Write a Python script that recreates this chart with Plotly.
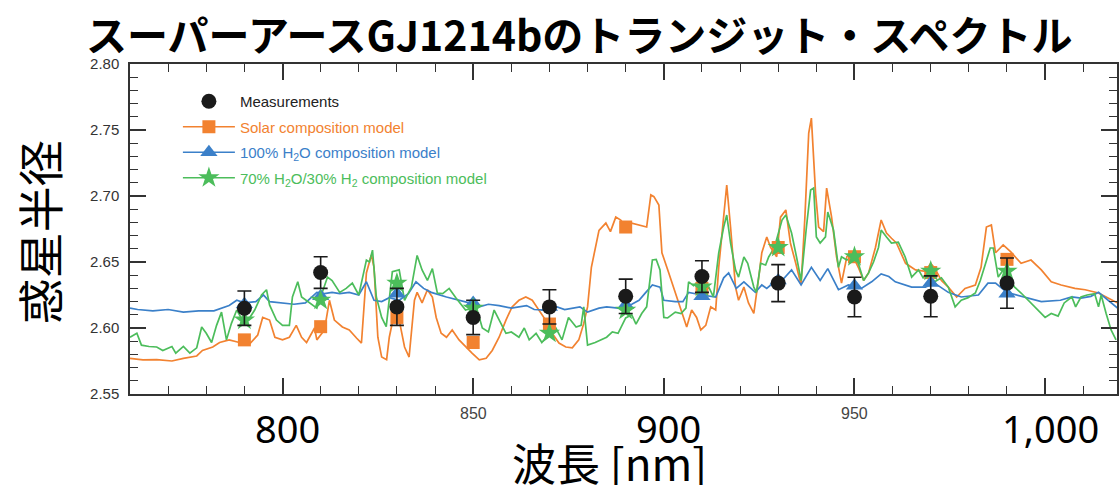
import plotly.graph_objects as go

# ---------------- data ----------------
# binned wavelengths (nm) of the measurements and model points
bin_wl = [790, 810, 830, 850, 870, 890, 910, 930, 950, 970, 990]
meas_r = [2.615, 2.642, 2.616, 2.608, 2.616, 2.624, 2.639, 2.634, 2.6235, 2.624, 2.634]
meas_err = [0.013, 0.012, 0.014, 0.013, 0.013, 0.013, 0.012, 0.014, 0.015, 0.0155, 0.019]
solar_pts = [2.591, 2.601, 2.608, 2.589, 2.603, 2.6765, 2.630, 2.661, 2.654, 2.642, 2.652]
water_pts = [2.618, 2.624, 2.626, 2.619, 2.616, 2.6175, 2.624, 2.636, 2.632, 2.634, 2.626]
mix_pts = [2.606, 2.621, 2.634, 2.615, 2.596, 2.6135, 2.631, 2.661, 2.654, 2.643, 2.643]

# high-resolution model spectra
solar_wl = [760, 763.4, 767, 771, 774, 777.5, 779, 781.7, 783.5, 786, 788.7, 791.4, 793.5, 794.8,
            796.6, 798, 800, 801.8, 803.6, 805, 806.3, 808.4, 809, 811, 812.3, 813.6, 815.7, 817.5,
            819.4, 820.7, 822, 823.3, 824, 825, 826, 827.3, 828, 829.3, 830.6, 832, 833.2, 834.6,
            835.3, 836.6, 838, 839.3, 840.3, 841.6, 843, 844.5, 846.3, 848, 849.7, 851.6, 853.4,
            855, 856.8, 858.6, 860.2, 862, 863.8, 865.5, 867.3, 869, 870.7, 872.5, 874.3, 876,
            877.7, 879, 880, 881, 883, 884.8, 886, 887.4, 888.7, 890, 891.6, 893.5, 895.5, 896.6,
            897.4, 898.7, 899.5, 901.3, 903, 904.7, 906, 907.3, 908.6, 909.7, 911, 912.3, 913.6,
            914.4, 915.7, 916.5, 917.5, 918.8, 919.6, 921, 922.2, 923.6, 924.9, 925.7, 927, 928,
            929.6, 930.6, 932, 933.2, 934.6, 936, 937, 938, 938.7, 939.8, 940.6, 941.9, 942.7,
            944, 945.3, 946.6, 948, 949.2, 951, 952.4, 953.7, 955.5, 957, 958.4, 959.7, 961,
            963.4, 966, 968.6, 970, 971, 972.8, 974.6, 976.8, 979, 981.7, 983.2, 984.6, 985.9,
            987, 989, 991, 993.7, 996.3, 999, 1001.6, 1004.2, 1007.8, 1010.5, 1014, 1016.5, 1019]
solar_r = [2.577, 2.5758, 2.576, 2.575, 2.577, 2.5788, 2.583, 2.5856, 2.589, 2.591, 2.589, 2.588,
           2.5947, 2.608, 2.606, 2.593, 2.591, 2.593, 2.602, 2.593, 2.589, 2.600, 2.591, 2.5985,
           2.621, 2.606, 2.6008, 2.5985, 2.5924, 2.5886, 2.6417, 2.6553, 2.646, 2.593, 2.578,
           2.576, 2.593, 2.611, 2.606, 2.5856, 2.578, 2.621, 2.627, 2.619, 2.629, 2.6235, 2.608,
           2.596, 2.593, 2.5985, 2.591, 2.5856, 2.581, 2.5758, 2.577, 2.583, 2.593, 2.606, 2.616,
           2.621, 2.6235, 2.621, 2.6136, 2.606, 2.596, 2.5886, 2.5856, 2.585, 2.591, 2.6035,
           2.616, 2.646, 2.674, 2.6795, 2.673, 2.684, 2.6818, 2.6765, 2.6795, 2.678, 2.6765,
           2.7008, 2.6995, 2.6932, 2.657, 2.6417, 2.6265, 2.611, 2.6008, 2.6136, 2.608, 2.5985,
           2.602, 2.616, 2.6136, 2.646, 2.684, 2.7083, 2.6765, 2.631, 2.621, 2.631, 2.619, 2.611,
           2.6386, 2.657, 2.669, 2.661, 2.654, 2.684, 2.6894, 2.6644, 2.649, 2.6326, 2.684,
           2.7477, 2.759, 2.702, 2.6765, 2.673, 2.706, 2.684, 2.6538, 2.634, 2.654, 2.657, 2.646,
           2.636, 2.6417, 2.661, 2.6818, 2.672, 2.668, 2.6644, 2.649, 2.644, 2.643, 2.649,
           2.6455, 2.636, 2.631, 2.6235, 2.630, 2.6326, 2.646, 2.6765, 2.678, 2.657, 2.663,
           2.6576, 2.649, 2.6515, 2.644, 2.635, 2.6326, 2.630, 2.629, 2.6265, 2.6227, 2.619]

water_wl = [760, 762, 766, 770, 774, 778, 782, 786, 788, 790, 793, 795, 796.6, 800, 803, 806, 809,
            811, 813, 815, 817.5, 820, 822, 824, 826, 828, 830.6, 833, 835, 837, 839, 843, 846,
            849, 851.6, 854, 856.8, 860, 864, 866, 869, 872, 874, 878, 880, 883, 885, 888, 891.6,
            893.5, 895, 897, 899, 900, 903, 905, 906.5, 908, 910, 913.6, 915.7, 917, 919, 921, 924,
            925.7, 927, 929, 931, 933.5, 936, 938.7, 941, 943, 945.8, 948.4, 951.8, 954.5, 957,
            959, 960.7, 965, 968.6, 971, 974.6, 978, 982.5, 985, 987, 990, 994.8, 999, 1004, 1007,
            1009.4, 1012, 1014, 1016.5, 1019]
water_r = [2.615, 2.614, 2.613, 2.614, 2.612, 2.613, 2.613, 2.617, 2.621, 2.619, 2.620, 2.625,
           2.620, 2.619, 2.618, 2.619, 2.627, 2.626, 2.627, 2.626, 2.627, 2.625, 2.635, 2.621,
           2.620, 2.623, 2.621, 2.626, 2.635, 2.630, 2.627, 2.6235, 2.621, 2.619, 2.616, 2.618,
           2.617, 2.615, 2.617, 2.614, 2.6136, 2.616, 2.614, 2.616, 2.612, 2.615, 2.616, 2.615,
           2.618, 2.621, 2.626, 2.6326, 2.631, 2.621, 2.620, 2.620, 2.627, 2.626, 2.625, 2.6235,
           2.638, 2.6417, 2.630, 2.635, 2.627, 2.6326, 2.630, 2.635, 2.636, 2.644, 2.6326, 2.646,
           2.636, 2.645, 2.629, 2.6326, 2.630, 2.635, 2.641, 2.639, 2.635, 2.631, 2.631, 2.634,
           2.627, 2.6235, 2.625, 2.634, 2.634, 2.627, 2.6235, 2.620, 2.621, 2.6235, 2.6227, 2.624,
           2.627, 2.621, 2.615]

mix_wl = [760, 761.8, 763, 765, 767, 768.6, 771, 772, 774, 775.7, 777.5, 778.8, 780, 781.4, 782.7,
          784, 785.3, 786.6, 788, 789.5, 791, 792.7, 794.5, 795.8, 796.6, 798.4, 800, 801.8,
          802.6, 804, 805, 807, 809, 811.8, 813, 815, 816.7, 818.3, 820, 822, 822.8, 823.6,
          824.6, 826, 827.2, 828.8, 830.6, 832, 833.8, 835.3, 836.6, 838, 839.3, 840.6, 842,
          843.7, 845.5, 848, 850.8, 852.4, 854, 855.5, 856.8, 858.6, 860, 862, 863.4, 864.7,
          866.5, 868, 870, 871.7, 873.3, 875, 877, 878.3, 879, 880, 882, 885, 886.5, 888, 890,
          891.6, 892.7, 894.2, 895.5, 897, 898, 899, 900, 901, 903, 904.5, 905.8, 906.5, 907.8,
          909, 910.5, 911.8, 913, 914.4, 915.7, 916.5, 917.5, 918.8, 919.6, 921, 922, 923.6,
          924.3, 925.4, 926.7, 927.5, 929, 931, 932, 933.5, 934.8, 936, 937.4, 938.5, 939.3, 940,
          941, 942.4, 943, 944.5, 945.8, 946.6, 948, 949.2, 951, 952.4, 953.7, 955, 956.3, 957,
          958.4, 959.7, 961.5, 963.3, 965, 966.8, 968, 969.4, 971, 972.8, 974.6, 976.4, 978,
          979.8, 981.7, 983, 984.5, 985.6, 986.4, 987.7, 989, 990.3, 992, 993.7, 995.5, 998,
          1000, 1001.6, 1003.4, 1005, 1007, 1008, 1009.4, 1011, 1013, 1014, 1014.7, 1016, 1017.3,
          1018.6]
mix_r = [2.593, 2.596, 2.587, 2.586, 2.5856, 2.583, 2.586, 2.581, 2.586, 2.581, 2.585, 2.6008,
         2.596, 2.589, 2.602, 2.612, 2.591, 2.6035, 2.6136, 2.606, 2.606, 2.6136, 2.625, 2.629,
         2.6175, 2.606, 2.602, 2.602, 2.6235, 2.635, 2.6235, 2.619, 2.615, 2.6386, 2.636, 2.627,
         2.630, 2.634, 2.625, 2.6515, 2.650, 2.659, 2.6235, 2.608, 2.601, 2.6426, 2.644, 2.621,
         2.631, 2.655, 2.644, 2.636, 2.645, 2.6265, 2.626, 2.630, 2.6227, 2.6136, 2.616, 2.600,
         2.597, 2.6136, 2.606, 2.596, 2.597, 2.593, 2.600, 2.591, 2.596, 2.589, 2.596, 2.600,
         2.591, 2.608, 2.6008, 2.602, 2.616, 2.587, 2.589, 2.593, 2.597, 2.596, 2.6076, 2.610,
         2.603, 2.611, 2.616, 2.6515, 2.652, 2.644, 2.608, 2.6076, 2.612, 2.611, 2.615, 2.635,
         2.632, 2.635, 2.629, 2.631, 2.6235, 2.657, 2.6765, 2.6856, 2.6644, 2.644, 2.6386,
         2.6538, 2.649, 2.631, 2.627, 2.649, 2.6477, 2.6538, 2.661, 2.6818, 2.6856, 2.672,
         2.6538, 2.636, 2.6765, 2.7045, 2.706, 2.669, 2.6644, 2.669, 2.6879, 2.6742, 2.646,
         2.654, 2.6515, 2.653, 2.649, 2.636, 2.6417, 2.650, 2.661, 2.6742, 2.669, 2.6644, 2.665,
         2.6538, 2.6386, 2.644, 2.638, 2.6426, 2.635, 2.638, 2.631, 2.616, 2.621, 2.623, 2.6265,
         2.636, 2.650, 2.6606, 2.6606, 2.6386, 2.644, 2.6386, 2.631, 2.6265, 2.621, 2.6136,
         2.608, 2.611, 2.609, 2.619, 2.6235, 2.616, 2.6235, 2.625, 2.626, 2.616, 2.625, 2.611,
         2.5985, 2.591]

y_ticks = [2.55, 2.60, 2.65, 2.70, 2.75, 2.80]
x_ticks = [800, 850, 900, 950, 1000]
x_small_labels = ["850", "950"]
x_small_pos = [850, 950]
x_big_labels = ["800", "900", "1,000"]
x_big_pos = [800, 900, 1000]

title_text = "スーパーアースGJ1214bのトランジット・スペクトル"
y_title = "惑星半径"
x_title = "波長 [nm]"

ORANGE = "#F28230"
BLUE = "#3B80C9"
GREEN = "#4CBD5B"
BLACK = "#1a1a1a"

W, H = 1120, 485
L, R, T, B = 130, 1, 64, 91
PW, PH = W - L - R, H - T - B


def px(x):
    return (x - L) / PW


def py(y):
    return (H - B - y) / PH


def gapped(xs, ys):
    # interleave None so the marker trace shows line+marker in the legend
    # without connecting the binned points
    gx, gy = [], []
    for a, b in zip(xs, ys):
        gx += [a, None]
        gy += [b, None]
    return gx, gy


fig = go.Figure()

# model spectra (lines)
for wl, r, col in [(solar_wl, solar_r, ORANGE), (water_wl, water_r, BLUE), (mix_wl, mix_r, GREEN)]:
    fig.add_trace(go.Scatter(x=wl, y=r, mode="lines", line=dict(color=col, width=1.7),
                             showlegend=False, hoverinfo="skip"))

# binned model points
sx, sy = gapped(bin_wl, solar_pts)
fig.add_trace(go.Scatter(x=sx, y=sy, mode="lines+markers", connectgaps=False,
                         line=dict(color=ORANGE, width=1.7),
                         marker=dict(symbol="square", size=13, color=ORANGE),
                         name=f'<span style="color:{ORANGE}">Solar composition model</span>',
                         legendrank=2, legendgroup="s"))
wx, wy = gapped(bin_wl, water_pts)
fig.add_trace(go.Scatter(x=wx, y=wy, mode="lines+markers", connectgaps=False,
                         line=dict(color=BLUE, width=1.7),
                         marker=dict(symbol="triangle-up", size=15, color=BLUE),
                         name=f'<span style="color:{BLUE}">100% H<sub>2</sub>O composition model</span>',
                         legendrank=3, legendgroup="w"))
mx, my = gapped(bin_wl, mix_pts)
fig.add_trace(go.Scatter(x=mx, y=my, mode="lines+markers", connectgaps=False,
                         line=dict(color=GREEN, width=1.7),
                         marker=dict(symbol="star", size=16, color=GREEN),
                         name=f'<span style="color:{GREEN}">70% H<sub>2</sub>O/30% H<sub>2</sub> composition model</span>',
                         legendrank=4, legendgroup="m"))

# measurements with error bars
fig.add_trace(go.Scatter(x=bin_wl, y=meas_r, mode="markers",
                         marker=dict(symbol="circle", size=15, color=BLACK),
                         error_y=dict(type="data", array=meas_err, color=BLACK, thickness=1.6, width=7),
                         name='<span style="color:#222">Measurements</span>',
                         legendrank=1, legendgroup="d"))

axis_common = dict(showline=True, linecolor="#333", linewidth=1.5, mirror="ticks",
                   ticks="inside", ticklen=16, tickwidth=1.5, tickcolor="#333",
                   showgrid=False, zeroline=False)

fig.update_xaxes(range=[760, 1018.85], tickvals=x_ticks, showticklabels=False,
                 minor=dict(ticks="inside", ticklen=8, dtick=10, tick0=800, tickcolor="#333",
                            tickwidth=1.3),
                 **axis_common)
fig.update_yaxes(range=[2.55, 2.80], tickvals=y_ticks, tickformat=".2f",
                 tickfont=dict(family="Liberation Sans, Arial", size=15, color="#333"),
                 ticklabelstandoff=6,
                 minor=dict(ticks="inside", ticklen=8, dtick=0.01, tick0=2.55, tickcolor="#333",
                            tickwidth=1.3),
                 **axis_common)

annotations = [
    dict(text=f"<b>{title_text}</b>", x=px(580), y=py(33), xref="paper", yref="paper",
         showarrow=False, xanchor="center", yanchor="middle",
         font=dict(family="Noto Sans CJK JP", size=41, color="black")),
    dict(text=y_title, x=px(38), y=py(232), xref="paper", yref="paper", textangle=-90,
         showarrow=False, xanchor="center", yanchor="middle",
         font=dict(family="Noto Sans CJK JP", size=46, color="black")),
    dict(text=x_title, x=px(610), y=py(462), xref="paper", yref="paper",
         showarrow=False, xanchor="center", yanchor="middle",
         font=dict(family="Noto Sans CJK JP", size=44, color="black")),
]
# small tick labels of the original axis
for lab, pos in zip(x_small_labels, x_small_pos):
    annotations.append(dict(text=lab, x=pos, y=py(413), xref="x", yref="paper",
                            showarrow=False, xanchor="center", yanchor="middle",
                            font=dict(family="Liberation Sans, Arial", size=16, color="#444")))
# enlarged wavelength labels
for lab, pos in zip(x_big_labels, x_big_pos):
    annotations.append(dict(text=lab, x=pos, y=py(428), xref="x", yref="paper", xshift=5,
                            showarrow=False, xanchor="center", yanchor="middle",
                            font=dict(family="Noto Sans", size=38, color="black")))

fig.update_layout(
    width=W, height=H,
    margin=dict(l=L, r=R, t=T, b=B),
    paper_bgcolor="white", plot_bgcolor="white",
    annotations=annotations,
    legend=dict(x=px(178), y=py(85), xanchor="left", yanchor="top",
                bgcolor="rgba(0,0,0,0)", tracegroupgap=3, itemwidth=52,
                font=dict(family="Liberation Sans, Arial", size=15)),
)

fig.write_html("out.html")
